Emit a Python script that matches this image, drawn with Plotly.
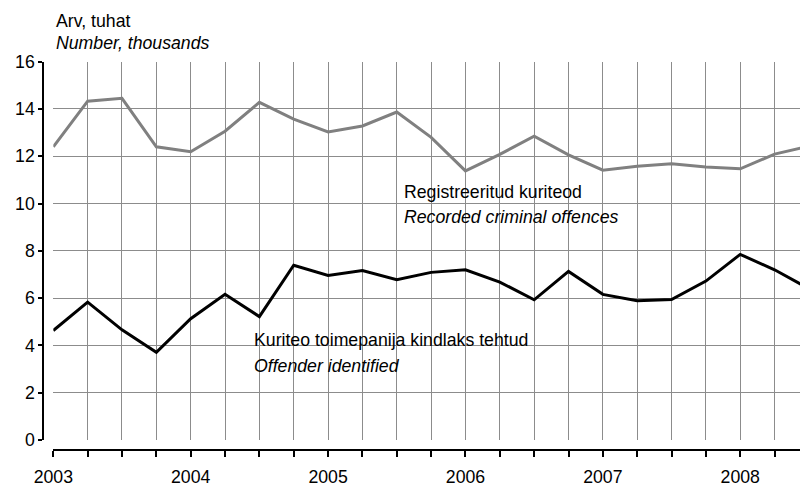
import plotly.graph_objects as go

# Quarterly data, 2003 Q1 ... 2008 Q3 (x = quarter index)
quarters = list(range(23))
years = ["2003", "2004", "2005", "2006", "2007", "2008"]
recorded = [12.40, 14.33, 14.45, 12.40, 12.19, 13.06, 14.28, 13.57, 13.03, 13.28,
            13.87, 12.80, 11.38, 12.08, 12.85, 12.06, 11.41, 11.58, 11.68, 11.55,
            11.47, 12.09, 12.43]
identified = [4.63, 5.83, 4.66, 3.71, 5.13, 6.16, 5.22, 7.39, 6.96, 7.17,
              6.78, 7.09, 7.20, 6.68, 5.93, 7.13, 6.16, 5.89, 5.94, 6.72,
              7.85, 7.20, 6.40]
y_ticks = list(range(0, 17, 2))
tick_text = [years[i // 4] if i % 4 == 0 else "" for i in quarters]

W, H = 800, 489
def px(x):
    return x / W
def py(y):
    return 1 - y / H

FONT = "Arial, Liberation Sans, sans-serif"
FS = 17.7
GRID = "#8c8c8c"
X_RANGE = [0, 21.74]
Y_RANGE = [0, 16]

fig = go.Figure()
fig.add_trace(go.Scatter(x=quarters, y=recorded, mode="lines",
                         line=dict(color="#808080", width=3), showlegend=False,
                         name="Registreeritud kuriteod"))
fig.add_trace(go.Scatter(x=quarters, y=identified, mode="lines",
                         line=dict(color="#000000", width=3), showlegend=False,
                         name="Kuriteo toimepanija kindlaks tehtud"))
# helper traces so the offset axes get drawn
fig.add_trace(go.Scatter(x=[None], y=[None], xaxis="x2", yaxis="y",
                         showlegend=False, hoverinfo="skip"))
fig.add_trace(go.Scatter(x=[None], y=[None], xaxis="x", yaxis="y2",
                         showlegend=False, hoverinfo="skip"))

fig.update_layout(
    width=W, height=H,
    margin=dict(l=0, r=0, t=0, b=0, pad=0, autoexpand=False),
    paper_bgcolor="white", plot_bgcolor="white",
    font=dict(family=FONT, size=FS, color="black"),
    xaxis=dict(domain=[px(53.3), 1], range=X_RANGE, tickvals=quarters,
               showticklabels=False, ticks="", showgrid=True, gridcolor=GRID,
               gridwidth=1, zeroline=False, showline=False, fixedrange=True,
               automargin=False),
    yaxis=dict(domain=[py(440), py(61.7)], range=Y_RANGE, tickvals=y_ticks,
               showticklabels=False, ticks="", showgrid=True, gridcolor=GRID,
               gridwidth=1, zeroline=False, showline=False, fixedrange=True,
               automargin=False),
    xaxis2=dict(overlaying="x", anchor="free", position=py(450), range=X_RANGE,
                tickvals=quarters, ticktext=tick_text, ticks="outside",
                ticklen=6, tickwidth=1.5, tickcolor="black", showline=True,
                linecolor="black", linewidth=2, showgrid=False, zeroline=False,
                tickfont=dict(size=FS, family=FONT), fixedrange=True,
                automargin=False, ticklabelstandoff=5),
    yaxis2=dict(overlaying="y", anchor="free", position=px(43.3), side="left",
                range=Y_RANGE, tickvals=y_ticks, ticks="outside", ticklen=4,
                tickwidth=1.5, tickcolor="black", showline=True,
                linecolor="black", linewidth=2, showgrid=False, zeroline=False,
                tickfont=dict(size=FS, family=FONT), fixedrange=True,
                automargin=False),
    shapes=[
        dict(type="rect", xref="paper", yref="paper", x0=px(393), x1=px(653),
             y0=py(232), y1=py(180), fillcolor="white", line=dict(width=0),
             layer="between"),
        dict(type="rect", xref="paper", yref="paper", x0=px(240), x1=px(566),
             y0=py(375), y1=py(328), fillcolor="white", line=dict(width=0),
             layer="between"),
    ],
)

def note(text, x, y):
    fig.add_annotation(text=text, xref="paper", yref="paper", x=px(x), y=py(y),
                       xanchor="left", yanchor="middle", showarrow=False,
                       borderpad=0, font=dict(family=FONT, size=FS, color="black"))

note("Arv, tuhat", 55, 21)
note("<i>Number, thousands</i>", 55, 43)
note("Registreeritud kuriteod", 403, 192)
note("<i>Recorded criminal offences</i>", 403, 217)
note("Kuriteo toimepanija kindlaks tehtud", 253, 340)
note("<i>Offender identified</i>", 253, 366)

fig.write_html("out.html",
               config={"displayModeBar": False},
               post_script="document.body.style.margin='0';"
                           "document.body.style.overflow='hidden';")
